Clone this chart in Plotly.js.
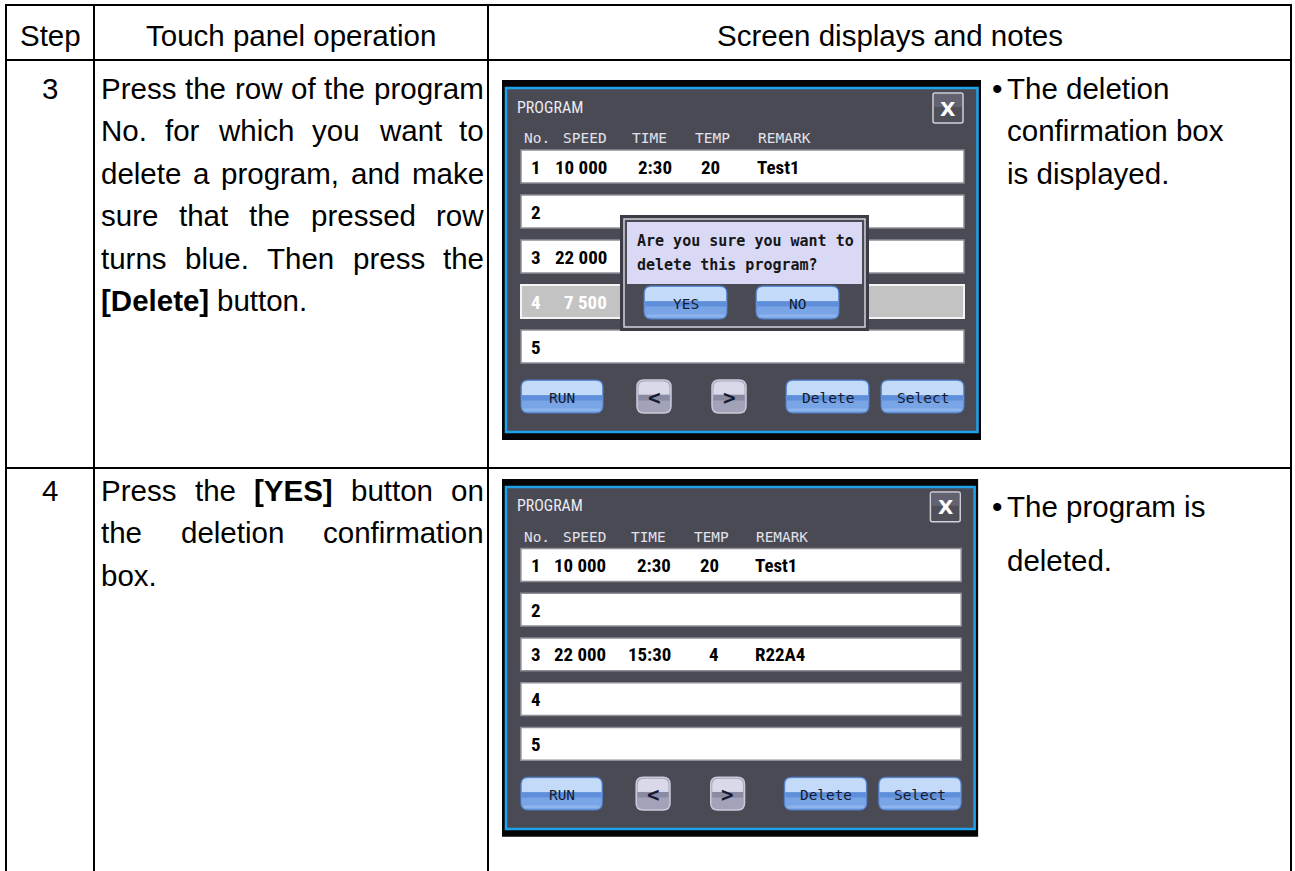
<!DOCTYPE html>
<html><head><meta charset="utf-8">
<script src="https://cdn.plot.ly/plotly-3.0.1.min.js"></script>
<style>html,body{margin:0;padding:0;background:#fff;overflow:hidden}#chart{width:1295px;height:871px}</style>
</head><body><div id="chart"></div>
<script>
// ---------------- data ----------------
const headerLabels = ['Step', 'Touch panel operation', 'Screen displays and notes'];
const steps = ['3', '4'];
const operation3 = ['Press the row of the program', 'No. for which you want to', 'delete a program, and make', 'sure that the pressed row', 'turns blue. Then press the', '[Delete] button.'];
const operation4 = ['Press the [YES] button on', 'the deletion confirmation', 'box.'];
const boldWords = ['[Delete]', '[YES]'];
const notes3 = ['The deletion', 'confirmation box', 'is displayed.'];
const notes4 = ['The program is', 'deleted.'];
const panelTitle = 'PROGRAM';
const columnLabels = ['No.', 'SPEED', 'TIME', 'TEMP', 'REMARK'];
const programNos = ['1', '2', '3', '4', '5'];
const speedBefore = ['10 000', '', '22 000', '7 500', ''];
const timeBefore = ['2:30', '', '15:30', '', ''];
const tempBefore = ['20', '', '4', '', ''];
const remarkBefore = ['Test1', '', 'R22A4', '', ''];
const speedAfter = ['10 000', '', '22 000', '', ''];
const timeAfter = ['2:30', '', '15:30', '', ''];
const tempAfter = ['20', '', '4', '', ''];
const remarkAfter = ['Test1', '', 'R22A4', '', ''];
const buttonLabels = ['RUN', '<', '>', 'Delete', 'Select'];
const dialogLines = ['Are you sure you want to', 'delete this program?'];
const dialogButtons = ['YES', 'NO'];

// ---------------- helpers ----------------
const W = 1295, H = 871;
const ctx = document.createElement('canvas').getContext('2d');
function hasFont(name) {
  const t = 'mmmmmmmmmmlli10 000WW';
  for (const b of ['monospace', 'serif']) {
    ctx.font = '72px ' + b; const w0 = ctx.measureText(t).width;
    ctx.font = '72px "' + name + '", ' + b;
    if (Math.abs(ctx.measureText(t).width - w0) > 0.5) return true;
  }
  return false;
}
const SANS = '"Liberation Sans", Arial, sans-serif';
const MONO = '"DejaVu Sans Mono", "Liberation Mono", monospace';
const narrowName = ['Liberation Sans Narrow', 'Roboto Condensed', 'DejaVu Sans Condensed', 'Open Sans Condensed', 'Arial Narrow']
  .find(n => hasFont(n));
const NARROW = narrowName ? '"' + narrowName + '", ' + SANS : SANS;
const rowSize = narrowName ? 19 : 17.5;
const titleSize = narrowName ? 16 : 13.5;
function measure(str, size, family, bold) {
  ctx.font = (bold ? 'bold ' : '') + size + 'px ' + family;
  return ctx.measureText(str).width;
}

const shapes = [], ann = [];
const NONE = 'rgba(0,0,0,0)';
function rect(x0, y0, x1, y1, fill, lc, lw) {
  shapes.push({type: 'rect', xref: 'x', yref: 'y', x0, y0, x1, y1, fillcolor: fill || NONE,
    line: {color: lc || NONE, width: lw || 0}, layer: 'above'});
}
function path(d, fill, lc, lw) {
  shapes.push({type: 'path', xref: 'x', yref: 'y', path: d, fillcolor: fill || NONE,
    line: {color: lc || NONE, width: lw || 0}, layer: 'above'});
}
function seg(x0, y0, x1, y1, c, w) {
  shapes.push({type: 'line', xref: 'x', yref: 'y', x0, y0, x1, y1, line: {color: c, width: w}, layer: 'above'});
}
function text(t, x, y, size, family, color, xanchor) {
  ann.push({text: t, x, y, xref: 'x', yref: 'y', showarrow: false, xanchor: xanchor || 'left',
    yanchor: 'middle', font: {size, family, color}, borderpad: 0});
}
function esc(s) { return s.replace(/&/g, '&amp;').replace(/</g, '&lt;').replace(/>/g, '&gt;'); }
function rr(x0, y0, x1, y1, r) {
  return `M${x0 + r},${y0} L${x1 - r},${y0} Q${x1},${y0} ${x1},${y0 + r} L${x1},${y1 - r} Q${x1},${y1} ${x1 - r},${y1} L${x0 + r},${y1} Q${x0},${y1} ${x0},${y1 - r} L${x0},${y0 + r} Q${x0},${y0} ${x0 + r},${y0} Z`;
}
function rrTop(x0, y0, x1, y1, r) {
  return `M${x0},${y1} L${x0},${y0 + r} Q${x0},${y0} ${x0 + r},${y0} L${x1 - r},${y0} Q${x1},${y0} ${x1},${y0 + r} L${x1},${y1} Z`;
}
function button(x0, y0, x1, y1, kind, label, size, bold) {
  const h = y1 - y0, r = Math.min(7, h * 0.22);
  if (kind === 'blue') {
    path(rr(x0, y0, x1, y1, r), '#79a5e6', '#4f7cc4', 1);
    path(rrTop(x0 + 1, y0 + 1, x1 - 1, y0 + h * 0.46, r - 1), '#c3dbf9');
    rect(x0 + 1, y0 + h * 0.46, x1 - 1, y0 + h * 0.62, '#5f8fdb');
    rect(x0 + 3, y1 - h * 0.14, x1 - 3, y1 - 2, '#8db4ec');
  } else {
    path(rr(x0, y0, x1, y1, r), '#a2a2b8', '#cacadc', 1.5);
    path(rrTop(x0 + 1.5, y0 + 1.5, x1 - 1.5, y0 + h * 0.45, r - 1), '#d9d9e9');
    rect(x0 + 1.5, y0 + h * 0.45, x1 - 1.5, y0 + h * 0.62, '#8a8aa2');
  }
  const t = bold ? '<b>' + esc(label) + '</b>' : esc(label);
  text(t, (x0 + x1) / 2, (y0 + y1) / 2 + 1, size, MONO, '#141a30', 'center');
}

// ---------------- table frame ----------------
const TL = 6, TR = 1291, TT = 5, C1 = 94, C2 = 488, HB = 60, RD = 468;
[TT, HB, RD].forEach(y => seg(TL, y, TR, y, '#000', 2));
[TL, C1, C2, TR].forEach(x => seg(x, TT - 1, x, H + 5, '#000', 2));
const headerX = [(TL + C1) / 2, (C1 + C2) / 2, (C2 + TR) / 2];
headerLabels.forEach((h, i) => text(h, headerX[i], 35, 29.5, SANS, '#000', 'center'));

// ---------------- operation text (justified) ----------------
const OPS = 29.5, LINE = 42.5;
function justify(lines, x0, x1, yStart, dy) {
  const spaceW = measure(' ', OPS, SANS, false);
  lines.forEach((ln, k) => {
    const words = ln.split(' ');
    const y = yStart + k * dy;
    const isB = words.map(w => boldWords.includes(w));
    const widths = words.map((w, i) => measure(w, OPS, SANS, isB[i]));
    const total = widths.reduce((a, b) => a + b, 0);
    const last = k === lines.length - 1;
    const gap = (last || words.length < 2) ? spaceW : (x1 - x0 - total) / (words.length - 1);
    let x = x0;
    words.forEach((w, i) => {
      text(isB[i] ? '<b>' + esc(w) + '</b>' : esc(w), x, y, OPS, SANS, '#000', 'left');
      x += widths[i] + gap;
    });
  });
}
const rowInfo = [
  {step: steps[0], y: 88, ops: operation3, notes: notes3, noteY: [88, 130.5, 173]},
  {step: steps[1], y: 490, ops: operation4, notes: notes4, noteY: [506, 560]}
];
rowInfo.forEach(r => {
  text(r.step, headerX[0], r.y, OPS, SANS, '#000', 'center');
  justify(r.ops, 100, 483, r.y, LINE);
  text('\u2022', 997, r.noteY[0], 30, SANS, '#000', 'center');
  r.notes.forEach((n, i) => text(n, 1006, r.noteY[i], OPS, SANS, '#000', 'left'));
});

// ---------------- touch panel ----------------
function panel(ox, oy, s, speed, time, temp, remark, withDialog) {
  const X = v => ox + v * s, Y = v => oy + v * s;
  rect(X(0), Y(0), X(479), Y(360), '#050505');
  rect(X(4), Y(8), X(475.5), Y(352), '#4a4a55', '#1fa2ea', 2.5);
  text(panelTitle, X(14), Y(27), titleSize * s, NARROW, '#ececf2', 'left');
  // close button
  path(rr(X(431), Y(13), X(461), Y(43), 2), '#4f4f5a', '#d0d0da', 1.5);
  rect(X(432), Y(14), X(460), Y(27), '#626270');
  text('<b>X</b>', X(446), Y(28.5), 20 * s, '"DejaVu Sans", sans-serif', '#ffffff', 'center');
  // column labels
  const colX = [21, 60, 129, 192, 255];
  columnLabels.forEach((c, i) => text(c, X(colX[i]), Y(58), 14.5 * s, MONO, '#e2e2ea', 'left'));
  // rows
  const dlg = {x0: 118, y0: 135, x1: 367, y1: 251};
  for (let i = 0; i < programNos.length; i++) {
    const top = 70 + 45 * i, bot = top + 33;
    const sel = withDialog && i === 3;
    rect(X(19), Y(top), X(462), Y(bot), sel ? '#c3c3c3' : '#ffffff', sel ? '#f4f4f4' : '#8e8e98', sel ? 2 : 1.5);
    const col = sel ? '#ffffff' : '#000000';
    const yc = Y(top + 17);
    const hidden = left => withDialog && left > dlg.x0 - 10 && bot > dlg.y0 && top < dlg.y1;
    const fs = rowSize * s;
    text('<b>' + programNos[i] + '</b>', X(34), yc, fs, NARROW, col, 'center');
    if (speed[i] && !hidden(60)) text('<b>' + speed[i] + '</b>', X(106), yc, fs, NARROW, col, 'right');
    if (time[i] && !hidden(125)) text('<b>' + time[i] + '</b>', X(171), yc, fs, NARROW, col, 'right');
    if (temp[i] && !hidden(200)) text('<b>' + temp[i] + '</b>', X(219), yc, fs, NARROW, col, 'right');
    if (remark[i] && !hidden(253)) text('<b>' + remark[i] + '</b>', X(254), yc, fs, NARROW, col, 'left');
  }
  // bottom buttons
  const bx = [[19, 101], [135, 169], [210, 244], [284, 367], [379, 462]];
  const kinds = ['blue', 'gray', 'gray', 'blue', 'blue'];
  buttonLabels.forEach((b, i) => {
    const g = kinds[i] === 'gray';
    button(X(bx[i][0]), Y(300), X(bx[i][1]), Y(333), kinds[i], b, (g ? 21 : 14.5) * s, g);
  });
  // confirmation dialog
  if (withDialog) {
    rect(X(dlg.x0), Y(dlg.y0), X(dlg.x1), Y(dlg.y1), '#3c3c46');
    rect(X(122), Y(139), X(363), Y(247), '#4a4a55', '#d2d2dc', 1.5);
    rect(X(125), Y(142), X(360), Y(204), '#d9d9f6');
    dialogLines.forEach((l, i) => text('<b>' + l + '</b>', X(134), Y(161 + 24 * i), 15 * s, MONO, '#161616', 'left'));
    const db = [[142, 225], [254, 337]];
    dialogButtons.forEach((b, i) => button(X(db[i][0]), Y(206), X(db[i][1]), Y(239), 'blue', b, 14.5 * s, false));
  }
}
panel(502, 80, 1, speedBefore, timeBefore, tempBefore, remarkBefore, true);
panel(502, 479, 0.994, speedAfter, timeAfter, tempAfter, remarkAfter, false);

// ---------------- render ----------------
const layout = {
  width: W, height: H, margin: {l: 0, r: 0, t: 0, b: 0, pad: 0},
  paper_bgcolor: '#ffffff', plot_bgcolor: '#ffffff', showlegend: false,
  xaxis: {range: [0, W], visible: false, fixedrange: true},
  yaxis: {range: [H, 0], visible: false, fixedrange: true},
  shapes, annotations: ann
};
Plotly.newPlot('chart', [{type: 'scatter', x: [], y: [], hoverinfo: 'skip'}], layout, {staticPlot: true, displayModeBar: false});
</script>
</body></html>
